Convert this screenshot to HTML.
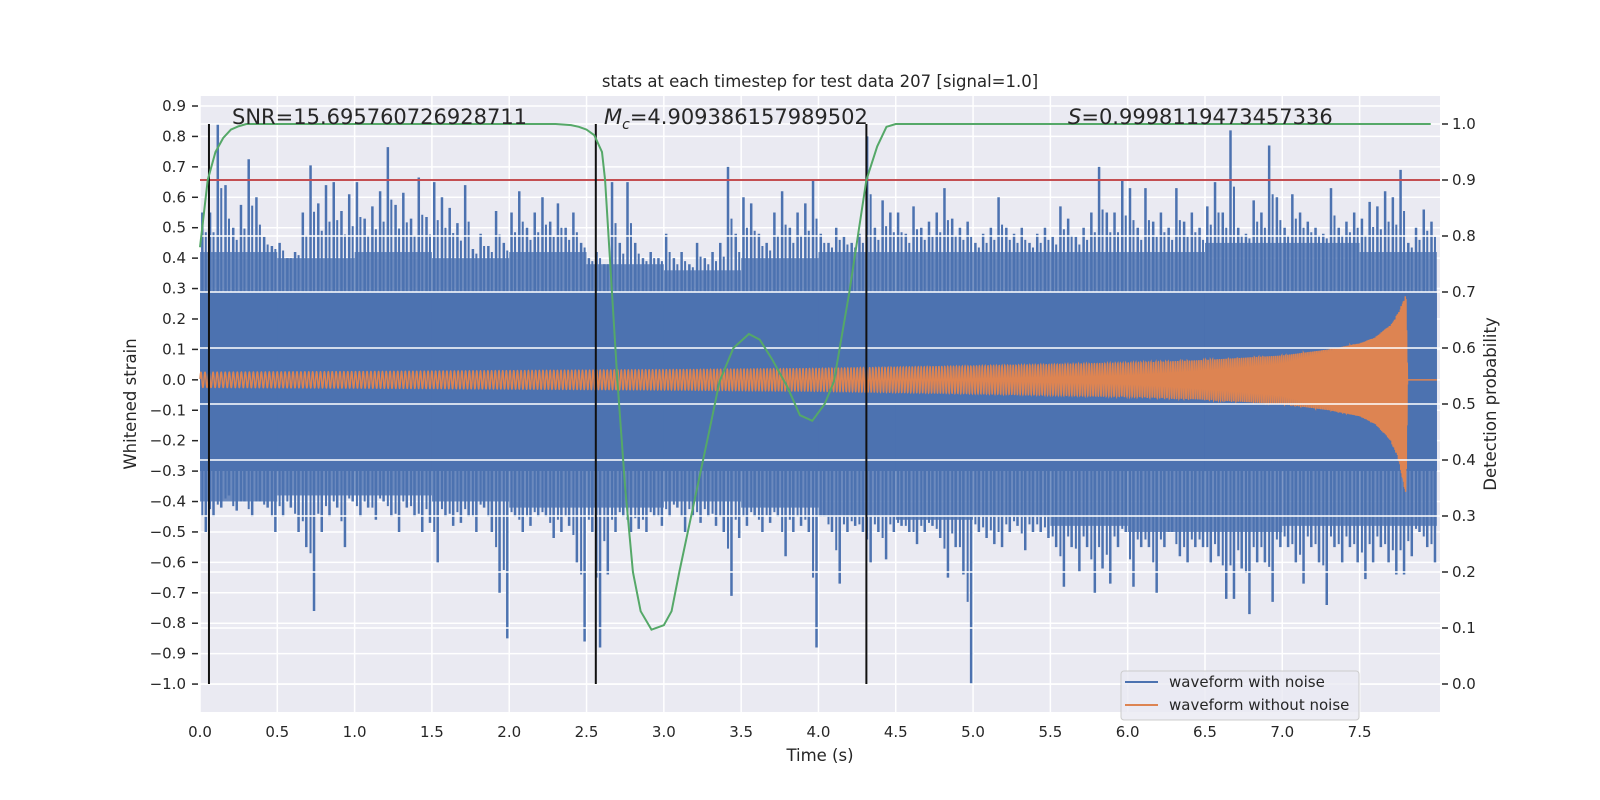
<!DOCTYPE html>
<html><head><meta charset="utf-8"><style>
body{margin:0;background:#fff}
svg{display:block}
text{font-family:"DejaVu Sans","Liberation Sans",sans-serif;fill:#262626}
</style></head><body>
<svg id="chart" width="1600" height="800" viewBox="0 0 1600 800">
<rect x="200" y="96" width="1240" height="616" fill="#EAEAF2"/>
<g id="grid1"></g><g id="blue"></g><g id="orange"></g><g id="grid2"></g><g id="ax2"></g><g id="ticks"></g>
<text x="820" y="87" font-size="16.5" text-anchor="middle">stats at each timestep for test data 207 [signal=1.0]</text>
<text x="232" y="124" font-size="21">SNR=15.695760726928711</text>
<text x="604" y="124" font-size="21"><tspan font-style="italic">M</tspan><tspan font-style="italic" font-size="14" dy="5">c</tspan><tspan dy="-5">=4.909386157989502</tspan></text>
<text x="1068" y="124" font-size="21"><tspan font-style="italic">S</tspan>=0.9998119473457336</text>
<text x="820" y="761" font-size="16.5" text-anchor="middle">Time (s)</text>
<text x="0" y="0" font-size="16.5" text-anchor="middle" transform="translate(136,404) rotate(-90)">Whitened strain</text>
<text x="0" y="0" font-size="16.5" text-anchor="middle" transform="translate(1496,404) rotate(-90)">Detection probability</text>
<g>
<rect x="1121" y="671" width="238" height="49" rx="3" fill="#EAEAF2" fill-opacity="0.8" stroke="#cccccc"/>
<line x1="1125" y1="682" x2="1158" y2="682" stroke="#4C72B0" stroke-width="2"/>
<text x="1169" y="687" font-size="15">waveform with noise</text>
<line x1="1125" y1="705" x2="1158" y2="705" stroke="#DD8452" stroke-width="2"/>
<text x="1169" y="710" font-size="15">waveform without noise</text>
</g>
</svg>
<script>
const binStep = 0.05;
const noiseHi = [0.55,0.55,0.84,0.64,0.5,0.575,0.725,0.6,0.47,0.44,0.45,0.40,0.42,0.55,0.705,0.58,0.64,0.65,0.555,0.61,
0.65,0.53,0.57,0.62,0.765,0.575,0.615,0.53,0.665,0.535,0.65,0.6,0.565,0.515,0.64,0.43,0.48,0.44,0.555,0.45,
0.55,0.62,0.5,0.55,0.6,0.52,0.58,0.5,0.55,0.45,0.4,0.42,0.38,0.65,0.45,0.65,0.45,0.4,0.42,0.4,
0.48,0.4,0.42,0.38,0.45,0.4,0.42,0.45,0.70,0.48,0.6,0.58,0.48,0.45,0.55,0.62,0.5,0.55,0.58,0.66,
0.48,0.45,0.5,0.47,0.45,0.48,0.8,0.5,0.59,0.55,0.55,0.48,0.57,0.5,0.52,0.55,0.63,0.53,0.5,0.52,
0.45,0.48,0.5,0.6,0.5,0.48,0.5,0.45,0.48,0.5,0.47,0.57,0.53,0.47,0.5,0.55,0.70,0.55,0.55,0.66,
0.63,0.5,0.63,0.52,0.55,0.5,0.63,0.52,0.55,0.5,0.57,0.65,0.55,0.82,0.5,0.48,0.59,0.55,0.77,0.6,
0.5,0.61,0.55,0.52,0.5,0.48,0.63,0.5,0.52,0.55,0.53,0.585,0.57,0.62,0.6,0.69,0.45,0.5,0.56,0.52];
const noiseLo = [-0.5,-0.45,-0.42,-0.38,-0.43,-0.4,-0.45,-0.4,-0.42,-0.5,-0.45,-0.42,-0.5,-0.55,-0.76,-0.5,-0.45,-0.42,-0.55,-0.4,
-0.45,-0.42,-0.46,-0.4,-0.45,-0.5,-0.42,-0.45,-0.5,-0.47,-0.6,-0.45,-0.48,-0.47,-0.45,-0.5,-0.42,-0.5,-0.7,-0.85,
-0.45,-0.5,-0.48,-0.45,-0.45,-0.52,-0.5,-0.48,-0.6,-0.86,-0.5,-0.88,-0.64,-0.5,-0.45,-0.5,-0.49,-0.5,-0.45,-0.48,
-0.45,-0.42,-0.5,-0.45,-0.47,-0.45,-0.48,-0.5,-0.71,-0.52,-0.48,-0.45,-0.5,-0.47,-0.45,-0.58,-0.5,-0.48,-0.5,-0.88,
-0.45,-0.5,-0.67,-0.5,-0.48,-0.5,-0.6,-0.5,-0.59,-0.5,-0.48,-0.5,-0.54,-0.5,-0.48,-0.52,-0.65,-0.55,-0.64,-1.0,
-0.5,-0.52,-0.54,-0.55,-0.5,-0.48,-0.56,-0.5,-0.5,-0.52,-0.55,-0.68,-0.55,-0.63,-0.55,-0.70,-0.62,-0.67,-0.55,-0.5,
-0.68,-0.55,-0.55,-0.70,-0.55,-0.5,-0.58,-0.6,-0.55,-0.55,-0.6,-0.58,-0.72,-0.72,-0.62,-0.77,-0.6,-0.6,-0.73,-0.55,
-0.55,-0.6,-0.67,-0.55,-0.6,-0.74,-0.55,-0.6,-0.55,-0.6,-0.655,-0.6,-0.55,-0.6,-0.64,-0.64,-0.58,-0.5,-0.55,-0.6];
const denseStep = 0.5;
const denseHi = [0.42,0.4,0.42,0.4,0.42,0.38,0.36,0.4,0.42,0.42,0.42,0.42,0.42,0.45,0.45,0.42];
const denseLo = [-0.4,-0.38,-0.38,-0.4,-0.42,-0.42,-0.4,-0.42,-0.45,-0.46,-0.45,-0.48,-0.5,-0.5,-0.48,-0.48];
const coreHi = 0.29, coreLo = -0.30;
const envT = [0,1,2,3,4,5,6,6.5,7,7.3,7.5,7.6,7.7,7.75,7.8,7.81,8.0];
const envUp = [0.025,0.027,0.03,0.033,0.037,0.045,0.055,0.065,0.08,0.1,0.12,0.14,0.18,0.22,0.28,0,0];
const envDn = [0.025,0.027,0.03,0.033,0.037,0.045,0.055,0.065,0.08,0.1,0.12,0.145,0.2,0.26,0.38,0,0];
const freqT = [0,2,4,6,7,7.5,7.7,7.81];
const freqHz = [38,42,48,60,75,100,140,250];
const probT = [0,0.05,0.1,0.15,0.2,0.25,0.3,0.4,2.3,2.4,2.45,2.5,2.55,2.6,2.62,2.7,2.75,2.8,2.85,2.92,3.0,3.05,3.1,3.2,3.3,3.36,3.45,3.55,3.62,3.7,3.8,3.88,3.96,4.04,4.1,4.2,4.31,4.38,4.44,4.5,7.96];
const probV = [0.78,0.9,0.95,0.975,0.99,0.996,1.0,1.0,1.0,0.998,0.995,0.99,0.98,0.95,0.9,0.54,0.35,0.2,0.13,0.097,0.105,0.13,0.2,0.33,0.46,0.54,0.6,0.625,0.615,0.58,0.53,0.48,0.47,0.5,0.54,0.7,0.9,0.96,0.995,1.0,1.0];
const threshold = 0.9;
const markerT = [0.058,2.56,4.31];
const xTicks = [0,0.5,1,1.5,2,2.5,3,3.5,4,4.5,5,5.5,6,6.5,7,7.5];
const yTicks = [-1.0,-0.9,-0.8,-0.7,-0.6,-0.5,-0.4,-0.3,-0.2,-0.1,0.0,0.1,0.2,0.3,0.4,0.5,0.6,0.7,0.8,0.9];
const y2Ticks = [0,0.1,0.2,0.3,0.4,0.5,0.6,0.7,0.8,0.9,1.0];

const NS='http://www.w3.org/2000/svg';
const X0=200,X1=1440,Y0=96,Y1=712;
const xmin=0,xmax=8.02,ymin=-1.0918,ymax=0.9329;
const sx=t=>X0+(t-xmin)/(xmax-xmin)*(X1-X0);
const sy=v=>Y1-(v-ymin)/(ymax-ymin)*(Y1-Y0);
const sy2=p=>Y1-(p+0.05)/1.1*(Y1-Y0);
function mk(tag,attrs,parent){const e=document.createElementNS(NS,tag);for(const k in attrs)e.setAttribute(k,attrs[k]);parent.appendChild(e);return e;}
const fmt=v=>(v<0?'\u2212':'')+Math.abs(v).toFixed(1);
const g1=document.getElementById('grid1'),gb=document.getElementById('blue'),go=document.getElementById('orange'),g2=document.getElementById('grid2'),ga=document.getElementById('ax2'),gt=document.getElementById('ticks');

xTicks.forEach(t=>{
 const l=mk('line',{x1:sx(t),x2:sx(t),y1:Y0,y2:Y1,stroke:'#fff','stroke-width':1.5},g1);
 
 
 const tx=mk('text',{x:sx(t),y:737,'font-size':15,'text-anchor':'middle'},gt);tx.textContent=t.toFixed(1);
 
 
});
yTicks.forEach(v=>{
 const l=mk('line',{x1:X0,x2:X1,y1:sy(v),y2:sy(v),stroke:'#fff','stroke-width':1.5},g1);
 
 
 const tk=mk('line',{x1:192,x2:198,y1:sy(v),y2:sy(v),stroke:'#262626','stroke-width':1.5},gt);
 
 
 const tx=mk('text',{x:186,y:sy(v)+5,'font-size':15,'text-anchor':'end'},gt);tx.textContent=fmt(v);
 
 
});
y2Ticks.forEach(p=>{
 const l=mk('line',{x1:X0,x2:X1,y1:sy2(p),y2:sy2(p),stroke:'#fff','stroke-width':1.5},g2);
 
 
 const tk=mk('line',{x1:1442,x2:1448,y1:sy2(p),y2:sy2(p),stroke:'#262626','stroke-width':1.5},gt);
 
 
 const tx=mk('text',{x:1452,y:sy2(p)+5,'font-size':15},gt);tx.textContent=p.toFixed(1);
 
 
});

const core=mk('rect',{x:sx(0),y:sy(coreHi),width:sx(8.0)-sx(0),height:sy(coreLo)-sy(coreHi),fill:'#4C72B0'},gb);


denseHi.forEach((h,i)=>{
 const t0=i*denseStep;
 const r=mk('rect',{x:sx(t0),y:sy(h),width:sx(t0+denseStep)-sx(t0),height:sy(denseLo[i])-sy(h),fill:'#4C72B0','fill-opacity':0.8},gb);
 
 
});
noiseHi.forEach((h,i)=>{
 const t0=i*binStep, lo=noiseLo[i];
 const bi=Math.min(denseHi.length-1,Math.floor(t0/denseStep));
 const xa=sx(t0+binStep*0.3), xb=sx(t0+binStep*0.75);
 const s1=mk('line',{x1:xa,x2:xa,y1:sy(h),y2:sy(0),stroke:'#4C72B0','stroke-width':2.5},gb);
 
 
 const s2=mk('line',{x1:xb,x2:xb,y1:sy(0),y2:sy(lo),stroke:'#4C72B0','stroke-width':2.5},gb);
 
 
 const s3=mk('line',{x1:xb,x2:xb,y1:sy((h+denseHi[bi])/2),y2:sy(0),stroke:'#4C72B0','stroke-width':2},gb);
 
 
 const s4=mk('line',{x1:xa,x2:xa,y1:sy(0),y2:sy((lo+denseLo[bi])/2),stroke:'#4C72B0','stroke-width':2},gb);
 
 
});

function interp(xs,ys,x){if(x<=xs[0])return ys[0];for(let i=1;i<xs.length;i++){if(x<=xs[i]){const f=(x-xs[i-1])/(xs[i]-xs[i-1]);return ys[i-1]+f*(ys[i]-ys[i-1]);}}return ys[ys.length-1];}
let ph=0,pts=[];const dt=0.0005;
for(let t=0;t<=8.0;t+=dt){
 ph+=2*Math.PI*interp(freqT,freqHz,Math.min(t,7.81))*dt;
 const s=Math.sin(ph);
 const a=s>=0?interp(envT,envUp,t):interp(envT,envDn,t);
 pts.push(sx(t).toFixed(2)+','+sy(a*s).toFixed(2));
}
const op=mk('polyline',{points:pts.join(' '),fill:'none',stroke:'#DD8452','stroke-width':1.5},go);



const red=mk('line',{x1:X0,x2:X1,y1:sy2(threshold),y2:sy2(threshold),stroke:'#C44E52','stroke-width':2},ga);


markerT.forEach(t=>{
 const l=mk('line',{x1:sx(t),x2:sx(t),y1:sy2(1),y2:sy2(0),stroke:'#111','stroke-width':2},ga);
 
 
});
const gp=mk('polyline',{points:probT.map((t,i)=>sx(t)+','+sy2(probV[i])).join(' '),fill:'none',stroke:'#55A868','stroke-width':2},ga);


</script>
</body></html>
